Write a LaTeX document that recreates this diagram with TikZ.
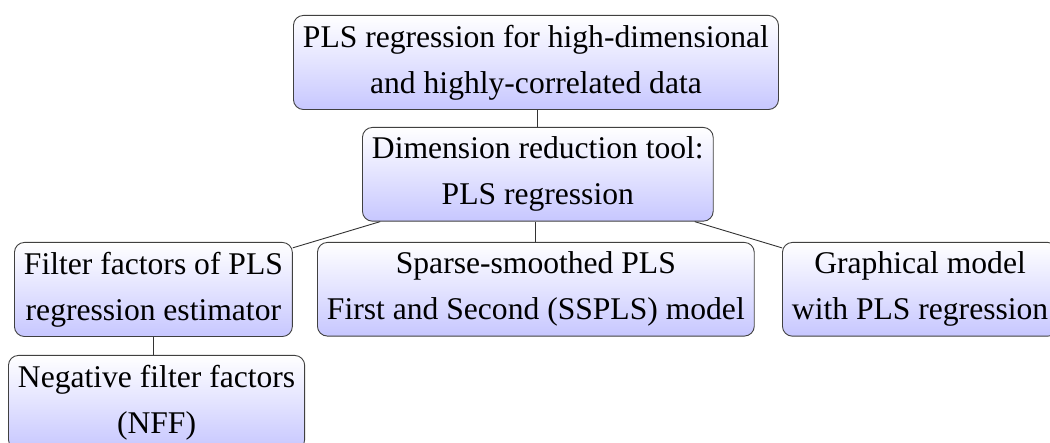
\documentclass[tikz,border=0pt]{standalone}
\usepackage{fontspec}
\setmainfont{Liberation Serif}
\tikzset{
  box/.style={draw=black!75, line width=0.9pt, rounded corners=10pt,
    top color=white, bottom color=blue!22, align=center,
    inner xsep=9.5pt, inner ysep=9.5pt, anchor=north west,
    font=\fontsize{31.6}{46}\selectfont},
  link/.style={draw=black!80, line width=0.9pt}
}
\begin{document}
\begin{tikzpicture}[x=1pt,y=1pt]
  \useasboundingbox (0,0) rectangle (1050,443);
  \clip (0,0) rectangle (1050,443);
  \node[box] (root) at (293,428) {PLS regression for high-dimensional\\and highly-correlated data};
  \node[box] (dim) at (362,316) {Dimension reduction tool:\\PLS regression};
  \node[box] (filt) at (14,201) {Filter factors of PLS\\regression estimator};
  \node[box] (sspls) at (317,201) {Sparse-smoothed PLS\\First and Second (SSPLS) model};
  \node[box] (graph) at (782,201) {Graphical model\\with PLS regression};
  \node[box] (nff) at (8,88) {Negative filter factors\\(NFF)};
  \draw[link] (dim.north) -- (dim.north |- root.south);
  \draw[link] (dim) -- (filt);
  \draw[link] (sspls.north) -- (sspls.north |- dim.south);
  \draw[link] (dim) -- (graph);
  \draw[link] (filt.south) -- (filt.south |- nff.north);
\end{tikzpicture}
\end{document}
